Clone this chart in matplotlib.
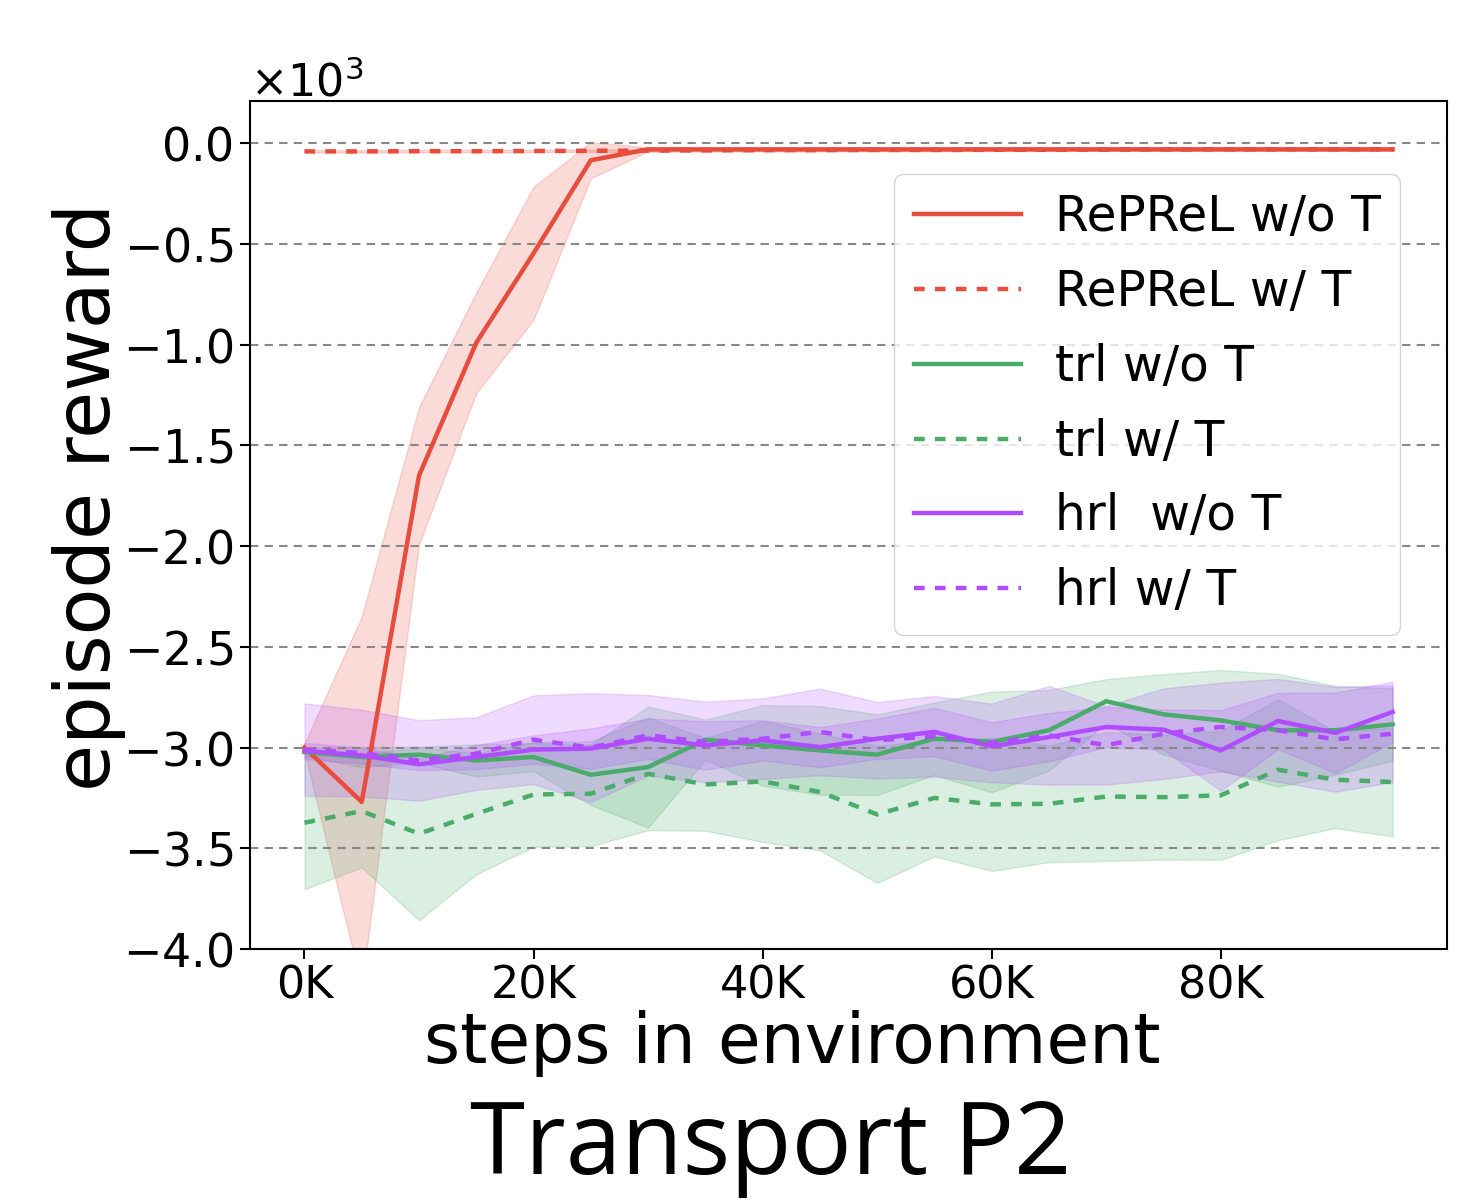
import matplotlib
matplotlib.use("Agg")
import matplotlib.pyplot as plt
from matplotlib.ticker import FuncFormatter

steps = [0, 5000, 10000, 15000, 20000, 25000, 30000, 35000, 40000, 45000,
         50000, 55000, 60000, 65000, 70000, 75000, 80000, 85000, 90000, 95000]

reprel_wo_mean = [-3000, -3270, -1650, -990, -546, -84, -30, -30, -30, -30,
                  -30, -30, -30, -30, -30, -30, -30, -30, -30, -30]
reprel_wo_std = [20, 920, 340, 250, 330, 90, 10, 5, 5, 5,
                 5, 5, 5, 5, 5, 5, 5, 5, 5, 5]

reprel_w_mean = [-40, -40, -39, -39, -38, -37, -36, -35, -34, -34,
                 -33, -33, -32, -32, -31, -31, -30, -30, -30, -30]
reprel_w_std = [6, 6, 6, 6, 6, 6, 6, 6, 6, 6, 6, 6, 6, 6, 6, 6, 6, 6, 6, 6]

trl_wo_mean = [-3022, -3047, -3035, -3064, -3047, -3135, -3097, -2961, -2989, -3014,
               -3035, -2956, -2972, -2914, -2770, -2835, -2865, -2914, -2914, -2885]
trl_wo_std = [20, 50, 40, 80, 70, 150, 300, 100, 200, 220,
              200, 180, 250, 200, 110, 200, 250, 280, 220, 180]

trl_w_mean = [-3373, -3315, -3428, -3329, -3233, -3229, -3130, -3183, -3168, -3220,
              -3332, -3250, -3282, -3279, -3243, -3246, -3237, -3110, -3160, -3171]
trl_w_std = [330, 280, 430, 300, 260, 260, 280, 230, 300, 290,
             340, 290, 330, 290, 320, 310, 320, 350, 240, 270]

hrl_wo_mean = [-3017, -3039, -3083, -3047, -3010, -3005, -2956, -2989, -2964, -2998,
               -2956, -2922, -2994, -2948, -2898, -2911, -3014, -2868, -2927, -2823]
hrl_wo_std = [40, 40, 30, 60, 70, 100, 100, 120, 100, 100,
              100, 120, 120, 120, 100, 100, 200, 140, 200, 150]

hrl_w_mean = [-3010, -3027, -3064, -3030, -2961, -3000, -2939, -2972, -2956, -2922,
              -2964, -2944, -2977, -2939, -2989, -2931, -2898, -2914, -2959, -2931]
hrl_w_std = [230, 215, 200, 180, 220, 270, 200, 200, 200, 215,
             190, 200, 195, 245, 195, 225, 220, 255, 260, 240]

RED = "#e74c3c"
GREEN = "#4aab6a"
PURPLE = "#b04cff"
DASH = (0, (2.4, 2.3))

series = [
    ("RePReL w/o T", reprel_wo_mean, reprel_wo_std, RED, "-"),
    ("RePReL w/ T", reprel_w_mean, reprel_w_std, RED, DASH),
    ("trl w/o T", trl_wo_mean, trl_wo_std, GREEN, "-"),
    ("trl w/ T", trl_w_mean, trl_w_std, GREEN, DASH),
    ("hrl  w/o T", hrl_wo_mean, hrl_wo_std, PURPLE, "-"),
    ("hrl w/ T", hrl_w_mean, hrl_w_std, PURPLE, DASH),
]

fig = plt.figure(figsize=(14.77, 12.04), dpi=100)
ax = fig.add_axes([0.1693, 0.2118, 0.8104, 0.7043])

for label, mean, std, color, ls in series:
    lo = [m - s for m, s in zip(mean, std)]
    hi = [m + s for m, s in zip(mean, std)]
    ax.fill_between(steps, lo, hi, color=color, alpha=0.2)
    ax.plot(steps, mean, color=color, linestyle=ls, linewidth=3.2, label=label)

ax.set_ylim(-4000, 210)
ax.set_yticks([0, -500, -1000, -1500, -2000, -2500, -3000, -3500, -4000])
ax.set_xticks([0, 20000, 40000, 60000, 80000])
ax.xaxis.set_major_formatter(FuncFormatter(lambda v, p: f"{int(v / 1000)}K"))
ax.ticklabel_format(axis="y", style="sci", scilimits=(3, 3), useMathText=True)
ax.yaxis.get_offset_text().set_fontsize(32)

ax.grid(axis="y", color="#888888", linestyle=(0, (4, 3)), linewidth=1.5)
ax.tick_params(labelsize=33, length=7, width=1.5, pad=5)
ax.tick_params(axis="x", labelsize=32, pad=4)
for sp in ax.spines.values():
    sp.set_linewidth(1.5)

ax.set_xlabel("steps in environment", fontsize=50)
ax.set_ylabel("episode reward", fontsize=55)
ax.xaxis.set_label_coords(0.453, -0.072)
ax.yaxis.set_label_coords(-0.104, 0.533)

ax.legend(loc="upper right", bbox_to_anchor=(0.9607, 0.9139), borderaxespad=0,
          fontsize=35, handlelength=2.2, handletextpad=0.7, labelspacing=0.55)

fig.text(0.522, 0.025, "Transport P2", fontsize=72, family="Open Sans",
         ha="center", va="baseline")

fig.savefig("out.png", dpi=100)
